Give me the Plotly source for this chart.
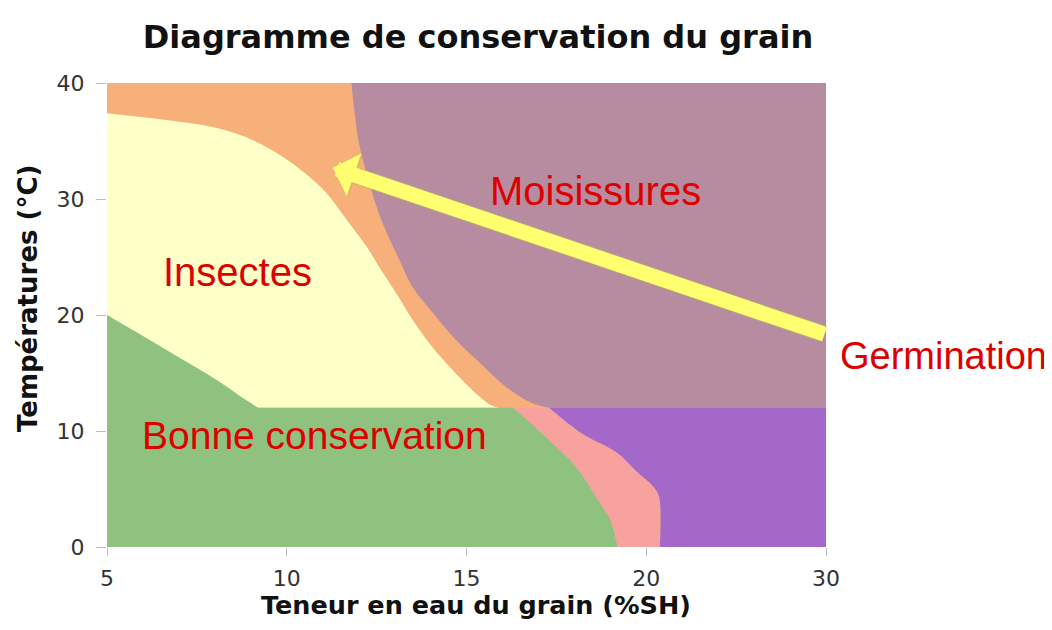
import plotly.graph_objects as go

# ---------------- data (grain moisture %SH, temperature °C) ----------------
x_tick_values = [5, 10, 15, 20, 30]
x_tick_labels = ["5", "10", "15", "20", "30"]
y_tick_values = [0, 10, 20, 30, 40]

# upper limit of the "Insectes" zone (yellow)
insect_x = [5.0, 7.03, 7.94, 8.89, 9.81, 10.56, 11.11, 11.67, 12.22, 12.58, 13.04,
            13.5, 14.06, 14.6, 15.17, 15.7, 15.92]
insect_y = [37.4, 36.67, 36.2, 35.3, 33.8, 32.1, 30.5, 28.2, 25.9, 24.1, 21.9,
            19.6, 17.2, 15.3, 13.5, 12.2, 12.0]

# left limit of the "Moisissures" zone (mauve)
mould_x = [11.8, 11.89, 12.03, 12.5, 12.78, 13.14, 13.5, 14.06, 14.72, 15.36, 16.1, 16.83, 17.3]
mould_y = [40.0, 37.4, 34.5, 29.3, 27.1, 24.7, 22.4, 20.2, 17.8, 15.9, 13.8, 12.4, 12.0]

# limit of the "Bonne conservation" zone (green)
good_x = [5.0, 6.0, 7.03, 8.0, 8.9, 9.2, 16.3, 17.3, 18.05, 18.6, 19.0, 19.2]
good_y = [20.0, 18.2, 16.3, 14.5, 12.6, 12.0, 12.0, 9.2, 6.9, 4.3, 2.3, 0.0]

# limit between the pink zone and the germination zone (purple)
germ_x = [17.3, 18.2, 19.2, 19.7, 20.4, 20.72, 20.76]
germ_y = [12.0, 9.8, 8.1, 6.6, 5.2, 4.3, 0.0]

# arrow (tail -> head)
arrow_tail = (30.0, 18.3)
arrow_head = (11.28, 32.7)

labels = ["Moisissures", "Insectes", "Bonne conservation"]
label_x = [18.6, 8.64, 10.78]
label_y = [30.7, 23.7, 9.57]

# ---------------- axis mapping (ticks 5,10,15,20,30 evenly spaced) ---------
def pos(v):
    return v if v <= 20 else 20 + (v - 20) / 2.0

X_MIN, X_MAX = 5.0, 30.0
Y_MIN, Y_MAX = 0.0, 40.0
Y_SPLIT = 12.0

C_ORANGE = "#F8B07A"
C_YELLOW = "#FFFFC8"
C_GREEN = "#8EC27E"
C_MAUVE = "#B88CA0"
C_PURPLE = "#A468C8"
C_PINK = "#F8A2A0"
C_RED = "#DD0000"

fig = go.Figure()


def zone(parts, color):
    """parts: list of (xs, ys, sharp) ; sharp vertices are doubled so that the
    spline keeps a crisp corner there."""
    px, py = [], []
    for xs, ys, sharp in parts:
        for xv, yv in zip(xs, ys):
            n = 2 if sharp else 1
            px += [pos(xv)] * n
            py += [yv] * n
    fig.add_trace(go.Scatter(x=px, y=py, mode="lines", fill="toself",
                             fillcolor=color,
                             line=dict(width=0, color=color, shape="spline", smoothing=1),
                             hoverinfo="skip", showlegend=False))


# mauve (moulds)
zone([([mould_x[0]], [mould_y[0]], True),
      (mould_x[1:-1], mould_y[1:-1], False),
      ([mould_x[-1], X_MAX, X_MAX], [mould_y[-1], Y_SPLIT, Y_MAX], True)], C_MAUVE)
# yellow (insects)
zone([([insect_x[0]], [insect_y[0]], True),
      (insect_x[1:-1], insect_y[1:-1], False),
      ([insect_x[-1], X_MIN], [insect_y[-1], Y_SPLIT], True)], C_YELLOW)
# pink
zone([([insect_x[-1], germ_x[0]], [Y_SPLIT, germ_y[0]], True),
      (germ_x[1:-1], germ_y[1:-1], False),
      ([germ_x[-1], insect_x[-1]], [germ_y[-1], Y_MIN], True)], C_PINK)
# purple (germination)
zone([([germ_x[0]], [germ_y[0]], True),
      (germ_x[1:-1], germ_y[1:-1], False),
      ([germ_x[-1], X_MAX, X_MAX], [germ_y[-1], Y_MIN, Y_SPLIT], True)], C_PURPLE)
# green (good storage)
zone([([X_MIN, good_x[0]], [Y_MIN, good_y[0]], True),
      (good_x[1:5], good_y[1:5], False),
      (good_x[5:7], good_y[5:7], True),
      (good_x[7:-1], good_y[7:-1], False),
      ([good_x[-1]], [good_y[-1]], True)], C_GREEN)

TXT_FONT = "Liberation Sans, Arial, sans-serif"
label_sizes = [40, 40, 39]
annotations = []
for t, xv, yv, sz in zip(labels, label_x, label_y, label_sizes):
    annotations.append(dict(x=pos(xv), y=yv, xref="x", yref="y", text=t,
                            showarrow=False,
                            font=dict(family=TXT_FONT, size=sz, color=C_RED)))
annotations.append(dict(x=(943 - 107) / 719, y=(547 - 356) / 464, xref="paper", yref="paper",
                        text="Germination", showarrow=False,
                        xanchor="center", yanchor="middle",
                        font=dict(family=TXT_FONT, size=38, color=C_RED)))
# arrow: thin olive rim underneath, yellow body on top
annotations.append(dict(x=pos(arrow_head[0]), y=arrow_head[1], xref="x", yref="y",
                        ax=pos(arrow_tail[0]), ay=arrow_tail[1], axref="x", ayref="y",
                        text="", showarrow=True, arrowhead=1, arrowsize=0.47,
                        arrowwidth=17, arrowcolor="rgba(190,180,90,0.55)"))
annotations.append(dict(x=pos(arrow_head[0]), y=arrow_head[1], xref="x", yref="y",
                        ax=pos(arrow_tail[0]), ay=arrow_tail[1], axref="x", ayref="y",
                        text="", showarrow=True, arrowhead=1, arrowsize=0.5,
                        arrowwidth=15, arrowcolor="#FFFF70"))
# axis titles
annotations.append(dict(x=(28 - 107) / 719, y=(547 - 299) / 464, xref="paper", yref="paper",
                        xanchor="center", yanchor="middle",
                        text="<b>Températures (°C)</b>", textangle=-90, showarrow=False,
                        font=dict(family="DejaVu Sans", size=26, color="#111")))
annotations.append(dict(x=(476 - 107) / 719, y=(547 - 605) / 464, xref="paper", yref="paper",
                        xanchor="center", yanchor="middle",
                        text="<b>Teneur en eau du grain (%SH)</b>", showarrow=False,
                        font=dict(family="DejaVu Sans", size=25.5, color="#111")))

fig.update_layout(
    width=1052, height=630,
    margin=dict(l=99, r=234, t=75, b=91),
    paper_bgcolor="white",
    plot_bgcolor=C_ORANGE,
    title=dict(text="<b>Diagramme de conservation du grain</b>",
               x=0.516, xref="paper", xanchor="center",
               y=1 - 29 / 630, yref="container", yanchor="middle",
               font=dict(family="DejaVu Sans", size=32, color="#111")),
    xaxis=dict(range=[pos(X_MIN), pos(X_MAX)], tickvals=[pos(v) for v in x_tick_values],
               ticktext=x_tick_labels, showgrid=False, zeroline=False,
               ticks="outside", ticklen=8, tickcolor="#B8BCCC", showline=False,
               ticklabelstandoff=4,
               tickfont=dict(family="DejaVu Sans", size=22, color="#333")),
    yaxis=dict(range=[Y_MIN, Y_MAX], tickvals=y_tick_values, showgrid=False,
               zeroline=False, ticks="outside", ticklen=10, tickcolor="#B8BCCC",
               showline=False, ticklabelstandoff=7,
               tickfont=dict(family="DejaVu Sans", size=22, color="#333")),
    annotations=annotations,
)

fig.write_html("out.html")
